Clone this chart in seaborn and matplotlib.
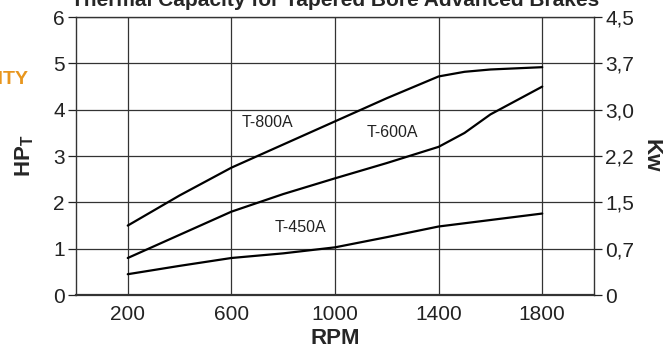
import pandas as pd
import seaborn as sns
import matplotlib
matplotlib.use("Agg")
import matplotlib.pyplot as plt

# curves (HP_T vs RPM)
rpm = [200, 400, 600, 800, 1000, 1200, 1400, 1500, 1600, 1800]
t800 = [1.5, 2.15, 2.75, 3.25, 3.75, 4.25, 4.72, 4.82, 4.87, 4.92]
t600 = [0.8, 1.3, 1.8, 2.18, 2.52, 2.85, 3.2, 3.5, 3.9, 4.5]
t450 = [0.45, 0.63, 0.8, 0.9, 1.03, 1.25, 1.48, 1.55, 1.62, 1.76]

x_ticks = [200, 600, 1000, 1400, 1800]
hp_ticks = [0, 1, 2, 3, 4, 5, 6]
kw_labels = ["0", "0,7", "1,5", "2,2", "3,0", "3,7", "4,5"]

labels = ["T-800A", "T-600A", "T-450A"]
label_pos = [(740, 3.72), (1220, 3.5), (865, 1.45)]

sns.set_style("white")
plt.rcParams['font.family'] = ['Liberation Sans', 'DejaVu Sans']
plt.rcParams['mathtext.fontset'] = 'custom'
plt.rcParams['mathtext.bf'] = 'Liberation Sans:bold'
plt.rcParams['mathtext.rm'] = 'Liberation Sans:bold'

df = pd.DataFrame({
    'RPM': rpm * 3,
    'HP': t800 + t600 + t450,
    'model': [labels[0]] * len(rpm) + [labels[1]] * len(rpm) + [labels[2]] * len(rpm),
})

fig = plt.figure(figsize=(6.72, 3.5), dpi=100)
ax = fig.add_axes([0.113, 0.157, 0.771, 0.794])

sns.lineplot(data=df, x='RPM', y='HP', hue='model', palette=['black'] * 3,
             linewidth=1.6, legend=False, ax=ax)

ax.set_xlim(0, 2000)
ax.set_ylim(0, 6)
ax.set_xticks(x_ticks)
ax.set_yticks(hp_ticks)
ax.grid(True, color='#333333', linewidth=0.9)
ax.tick_params(axis='x', length=0, labelsize=15, pad=7, colors='#222222')
ax.tick_params(axis='y', length=6, width=0.9, labelsize=15, pad=2, colors='#222222')
for s in ax.spines.values():
    s.set_color('#333333')
    s.set_linewidth(1.0)
ax.spines['bottom'].set_linewidth(1.6)

ax.set_xlabel("RPM", fontsize=16, fontweight='bold', labelpad=3)
ax.set_ylabel(r"HP$_\mathrm{T}$", fontsize=16, fontweight='bold', labelpad=12)

ax2 = ax.twinx()
ax2.set_ylim(0, 6)
ax2.set_yticks(hp_ticks)
ax2.set_yticklabels(kw_labels)
ax2.tick_params(axis='y', length=6, width=0.9, labelsize=15, pad=2, colors='#222222')
ax2.set_ylabel("Kw", fontsize=16, fontweight='bold', rotation=-90, labelpad=20)
for s in ax2.spines.values():
    s.set_visible(False)

for txt, (x, y) in zip(labels, label_pos):
    ax.text(x, y, txt, fontsize=11.5, ha='center', va='center', color='#222222')

fig.text(0.498, 1.0, "Thermal Capacity for Tapered Bore Advanced Brakes",
         fontsize=15, fontweight='bold', ha='center', va='center')
fig.text(0.042, 1 - 80 / 350, "CAPACITY", fontsize=14, fontweight='bold',
         color='#E8961E', ha='right', va='center')

fig.savefig("out.png", dpi=100)
plt.close(fig)
